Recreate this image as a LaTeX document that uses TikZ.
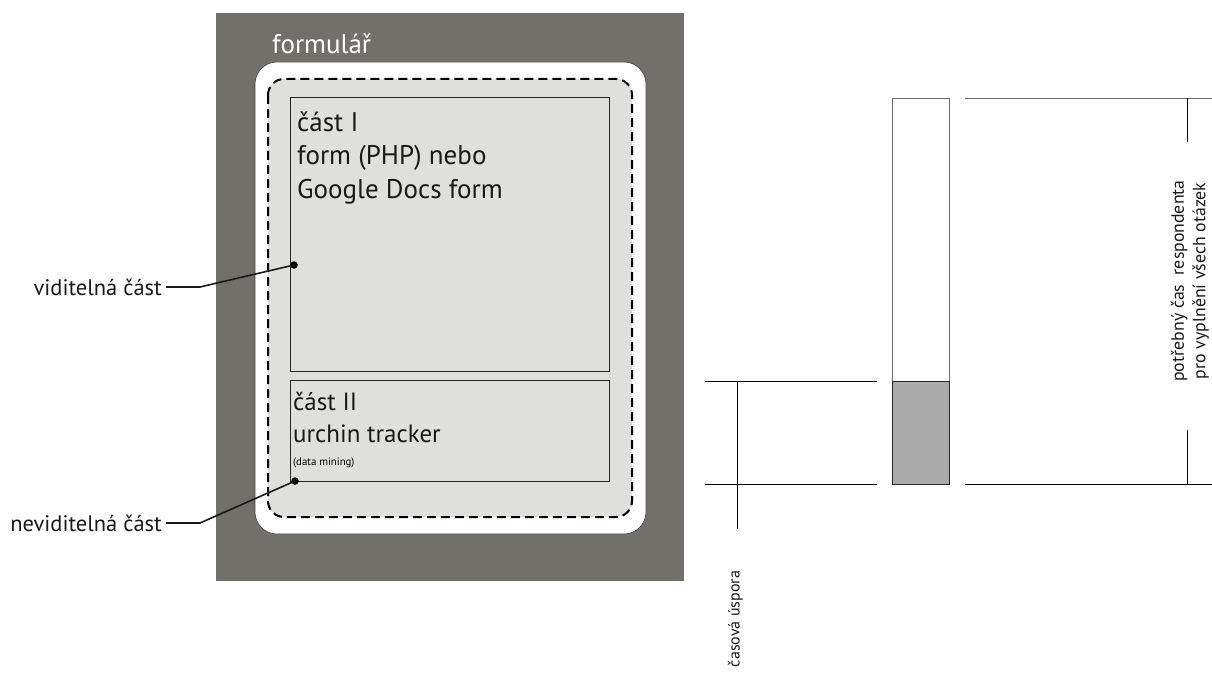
\documentclass[tikz,border=0pt]{standalone}
\usepackage{fontspec}
\setmainfont{PT Sans}
\definecolor{formdark}{HTML}{72706B}
\definecolor{formlight}{HTML}{DFDFDD}
\definecolor{barfill}{HTML}{ABABAB}
\definecolor{barline}{HTML}{6E6E6E}
\tikzset{
  panel/.style={draw=black!85, line width=0.8pt, fill=formlight, anchor=north west, inner sep=0pt},
  lead/.style={line width=1.6pt, black!90},
  pin/.style={circle, fill=black, inner sep=0pt, minimum size=7.5pt},
  guide/.style={line width=0.9pt, black},
  bigtext/.style={anchor=base west, inner sep=0pt, font=\fontsize{27}{31}\selectfont, text=black!90},
  midtext/.style={anchor=base west, inner sep=0pt, font=\fontsize{25}{29}\selectfont, text=black!90},
  labeltext/.style={anchor=east, inner sep=0pt, font=\fontsize{22.5}{26}\selectfont, text=black!90},
  sidetext/.style={rotate=90, inner sep=0pt, text=black!90, align=center}
}
\begin{document}
\begin{tikzpicture}[x=1pt,y=-1pt]
\useasboundingbox (0,0) rectangle (1212,679);

% form background and frames
\fill[formdark] (216,13) rectangle (684,581);
\draw[fill=white, draw=black!75, line width=0.6pt, rounded corners=22pt] (255,62) rectangle (646,534);
\draw[fill=formlight, line width=2pt, dash pattern=on 9pt off 5pt, rounded corners=16pt] (268,79) rectangle (632,517);
\node[anchor=base west, inner sep=0pt, text=white, font=\fontsize{27}{31}\selectfont] (title) at (272,54) {formulář};

% part I and part II
\node[panel, minimum width=319pt, minimum height=274pt] (p1) at (290,97) {};
\node[panel, minimum width=319pt, minimum height=101pt] (p2) at (290,380) {};
\node[bigtext] (t1a) at (297,132) {část I};
\node[bigtext] (t1b) at (297,165) {form (PHP) nebo};
\node[bigtext] (t1c) at (297,199) {Google Docs form};
\node[midtext] (t2a) at (293,410) {část II};
\node[midtext] (t2b) at (293,442) {urchin tracker};
\node[anchor=base west, inner sep=0pt, font=\fontsize{10.8}{13}\selectfont] (t2c) at (293,465) {(data mining)};

% callouts
\node[pin] (d1) at (294,265) {};
\node[pin] (d2) at (295,481) {};
\node[labeltext] (vis) at (162,287) {viditelná část};
\node[labeltext] (invis) at (162,523) {neviditelná část};
\coordinate (k1) at (200,287);
\coordinate (k2) at (200,523);
\draw[lead] ([xshift=4pt]vis.east) -- (k1) -- (d1.center);
\draw[lead] ([xshift=4pt]invis.east) -- (k2) -- (d2.center);

% time bar
\node[draw=barline, line width=0.9pt, anchor=north west, minimum width=57pt, minimum height=386pt, inner sep=0pt] (bar) at (892,98) {};
\node[draw=black!85, fill=barfill, line width=0.9pt, anchor=north west, minimum width=57pt, minimum height=103pt, inner sep=0pt] (saved) at (892,381) {};

% saving guides
\coordinate (s1) at (705,381);
\coordinate (s2) at (877,381);
\coordinate (s3) at (705,484);
\coordinate (s4) at (877,484);
\coordinate (s5) at (737,381);
\coordinate (s6) at (737,529);
\draw[guide] (s1) -- (s2);
\draw[guide] (s3) -- (s4);
\draw[guide] (s5) -- (s6);
\node[sidetext, anchor=south, font=\fontsize{16}{21}\selectfont] (saving) at (743,619) {časová úspora};

% total time guides
\coordinate (r1) at (965,98);
\coordinate (r2) at (1212,98);
\coordinate (r3) at (965,484);
\coordinate (r4) at (1212,484);
\coordinate (r5) at (1187,98);
\coordinate (r6) at (1187,142);
\coordinate (r7) at (1187,430);
\coordinate (r8) at (1187,484);
\draw[guide, barline] (r1) -- (r2);
\draw[guide] (r3) -- (r4);
\draw[guide] (r5) -- (r6);
\draw[guide] (r7) -- (r8);
\node[sidetext, font=\fontsize{17.8}{21.5}\selectfont] (total) at (1190,281) {potřebný čas\ \ respondenta\\pro vyplnění všech otázek};
\end{tikzpicture}
\end{document}
